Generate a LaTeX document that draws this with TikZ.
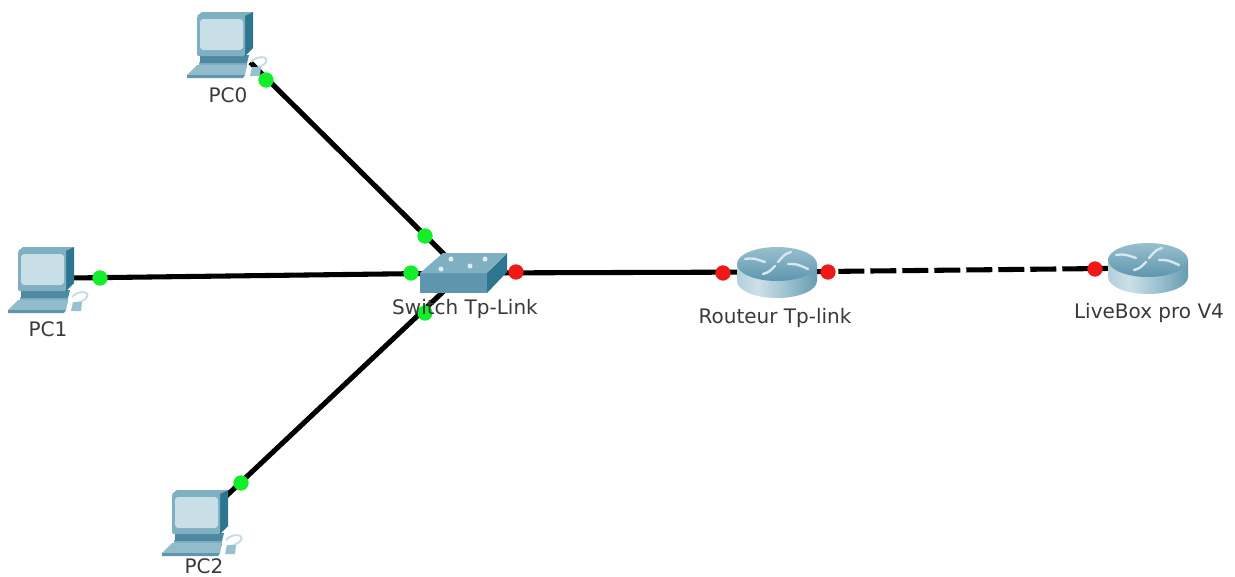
\documentclass[tikz,border=0pt]{standalone}
\usepackage{fontspec}
\setmainfont{DejaVu Sans}
\usetikzlibrary{calc}
\definecolor{lnk}{HTML}{000000}
\definecolor{dgreen}{HTML}{12EE2A}
\definecolor{dred}{HTML}{F01818}
\definecolor{teal1}{HTML}{7FB0C2}
\definecolor{teal2}{HTML}{2E7690}
\definecolor{teal3}{HTML}{5E96AE}
\definecolor{screen}{HTML}{C9DFE8}
\definecolor{lab}{HTML}{3A3A3A}
\pgfdeclarehorizontalshading{rtrside}{100bp}{
 color(0bp)=(teal1); color(38bp)=(teal1!40!white); color(55bp)=(teal1!75!white); color(78bp)=(teal3); color(100bp)=(teal2)}
\tikzset{
 x=0.75pt,y=-0.75pt,
 conn/.style={line width=3.8pt,color=lnk},
 dconn/.style={conn,dash pattern=on 19.5pt off 4.5pt,dash phase=2.25pt},
 gdot/.style={circle,fill=dgreen,inner sep=0pt,minimum size=11.5pt},
 rdot/.style={circle,fill=dred,inner sep=0pt,minimum size=11.5pt},
 lbl/.style={font=\fontsize{15pt}{18pt}\selectfont,text=lab,inner sep=0pt},
 anch/.style={inner sep=0pt,minimum size=0pt},
 pc/.pic={
  % cable
  \draw[teal1!45!white,line width=1.4pt] (54,50) .. controls (60,43) and (72,44) .. (69,50) .. controls (67,54) and (62,54) .. (60,56);
  % pedestal and keyboard
  \fill[teal1] (2,50)--(50,50)--(50,56)--(2,56)--cycle;
  \fill[teal1!85!white] (-10,63)--(0,53)--(50,53)--(48,63)--cycle;
  \fill[teal3] (-10,63)--(48,63)--(46,66)--(-10,66)--cycle;
  \fill[teal2!85!white] (3,43)--(52,43)--(50,51)--(3,51)--cycle;
  % mouse
  \fill[teal1!80!white] (55,55)--(64,55)--(63,64)--(53,64)--cycle;
  % monitor
  \fill[teal1] (0,4)--(5,0)--(56,0)--(50,5)--cycle;
  \fill[teal2] (48,4)--(56,0)--(56,36)--(48,44)--cycle;
  \fill[teal1,rounded corners=1pt] (0,4)--(48,4)--(48,44)--(0,44)--cycle;
  \fill[screen,rounded corners=2.5pt] (3,7)--(46,7)--(46,38)--(3,38)--cycle;
 },
 rtr/.pic={
  \path[shading=rtrside]
   (-40,-8) -- (-40,9) arc[start angle=180,end angle=0,x radius=40,y radius=17] -- (40,-8) -- cycle;
  \shade[top color=teal1!80!white,bottom color=teal3] (0,-8) ellipse[x radius=40,y radius=17];
  \draw[white!70!teal1,line width=1.8pt,line cap=round] (-32,-13) .. controls (-24,-14) .. (-12,-10)
    (14,-20) .. controls (8,-18) .. (1,-10)
    (11,-8) .. controls (20,-8) .. (31,-3)
    (-14,2) .. controls (-8,0) .. (-2,-6);
 },
 swi/.pic={
  \fill[teal3] (0,21)--(67,21)--(67,41)--(0,41)--cycle;
  \fill[teal2] (67,21)--(87,1)--(87,20)--(67,41)--cycle;
  \fill[teal1] (0,21)--(23,1)--(87,1)--(67,21)--cycle;
  \foreach \p in {(31,7),(65,7),(21,17),(50,14)} \fill[white!75!teal1] \p circle[radius=2.5];
 },
}
\begin{document}
\begin{tikzpicture}
\useasboundingbox (0,0) rectangle (1235,576);
\fill[white] (0,0) rectangle (1235,576);
\node[anch] (pc0) at (250,62) {};
\node[anch] (pc1) at (70,278) {};
\node[anch] (pc2) at (222,500) {};
\node[anch] (sw) at (463,273) {};
\node[anch] (r1) at (777,272) {};
\node[anch] (r2) at (1149,268) {};
\draw[conn] (pc0) -- (sw);
\draw[conn] (pc1) -- (sw);
\draw[conn] (pc2) -- (sw);
\draw[conn] (sw) -- (r1);
\draw[dconn] (r1) -- (r2);
\pic at (197,12) {pc};
\pic at (18,247) {pc};
\pic at (172,490) {pc};
\node[gdot] (d6) at (425,313) {};
\pic at (420,252) {swi};
\pic at (777,272) {rtr};
\pic at (1148,268) {rtr};
\node[gdot] (d1) at (266,80) {};
\node[gdot] (d2) at (425,236) {};
\node[gdot] (d3) at (100,278) {};
\node[gdot] (d4) at (411,273) {};
\node[gdot] (d5) at (241,483) {};
\node[rdot] (d7) at (516,272) {};
\node[rdot] (d8) at (723,273) {};
\node[rdot] (d9) at (828,272) {};
\node[rdot] (d10) at (1095,269) {};
\node[lbl] (l0) at (228,95) {PC0};
\node[lbl] (l1) at (48,329) {PC1};
\node[lbl] (l2) at (204,566) {PC2};
\node[lbl] (l3) at (465,309) {Switch Tp-Link};
\node[lbl] (l4) at (775,318) {Routeur Tp-link};
\node[lbl] (l5) at (1149,313) {LiveBox pro V4};
\end{tikzpicture}
\end{document}
